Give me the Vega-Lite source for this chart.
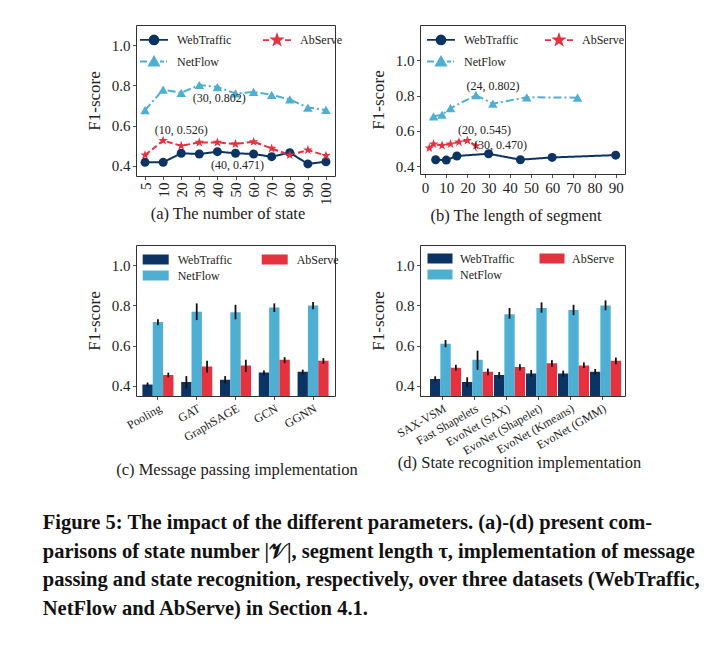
{
 "$schema": "https://vega.github.io/schema/vega-lite/v6.json",
 "background": "white",
 "padding": {"left": 42, "top": 24, "right": 5, "bottom": 5},
 "bounds": "flush",
 "align": "each",
 "columns": 2,
 "spacing": {"row": 69, "column": 85},
 "title": {
  "text": [
   "Figure 5: The impact of the different parameters. (a)-(d) present com-",
   "parisons of state number |𝒱|, segment length τ, implementation of message",
   "passing and state recognition, respectively, over three datasets (WebTraffic,",
   "NetFlow and AbServe) in Section 4.1."
  ],
  "orient": "bottom", "anchor": "start", "frame": "bounds",
  "font": "Liberation Serif", "fontSize": 20.5, "fontWeight": "bold", "lineHeight": 28.5,
  "color": "#111", "offset": 35, "dx": -42
 },
 "datasets": {
  "a": [
   {"n": 5, "series": "WebTraffic", "f1": 0.418}, {"n": 10, "series": "WebTraffic", "f1": 0.418},
   {"n": 20, "series": "WebTraffic", "f1": 0.463}, {"n": 30, "series": "WebTraffic", "f1": 0.459},
   {"n": 40, "series": "WebTraffic", "f1": 0.471}, {"n": 50, "series": "WebTraffic", "f1": 0.463},
   {"n": 60, "series": "WebTraffic", "f1": 0.459}, {"n": 70, "series": "WebTraffic", "f1": 0.446},
   {"n": 80, "series": "WebTraffic", "f1": 0.466}, {"n": 90, "series": "WebTraffic", "f1": 0.41},
   {"n": 100, "series": "WebTraffic", "f1": 0.421},
   {"n": 5, "series": "AbServe", "f1": 0.454}, {"n": 10, "series": "AbServe", "f1": 0.526},
   {"n": 20, "series": "AbServe", "f1": 0.5}, {"n": 30, "series": "AbServe", "f1": 0.517},
   {"n": 40, "series": "AbServe", "f1": 0.517}, {"n": 50, "series": "AbServe", "f1": 0.509},
   {"n": 60, "series": "AbServe", "f1": 0.52}, {"n": 70, "series": "AbServe", "f1": 0.487},
   {"n": 80, "series": "AbServe", "f1": 0.454}, {"n": 90, "series": "AbServe", "f1": 0.479},
   {"n": 100, "series": "AbServe", "f1": 0.451},
   {"n": 5, "series": "NetFlow", "f1": 0.677}, {"n": 10, "series": "NetFlow", "f1": 0.779},
   {"n": 20, "series": "NetFlow", "f1": 0.763}, {"n": 30, "series": "NetFlow", "f1": 0.802},
   {"n": 40, "series": "NetFlow", "f1": 0.792}, {"n": 50, "series": "NetFlow", "f1": 0.76},
   {"n": 60, "series": "NetFlow", "f1": 0.768}, {"n": 70, "series": "NetFlow", "f1": 0.753},
   {"n": 80, "series": "NetFlow", "f1": 0.73}, {"n": 90, "series": "NetFlow", "f1": 0.69},
   {"n": 100, "series": "NetFlow", "f1": 0.678}
  ],
  "b": [
   {"len": 5, "series": "WebTraffic", "f1": 0.436}, {"len": 10, "series": "WebTraffic", "f1": 0.434},
   {"len": 15, "series": "WebTraffic", "f1": 0.457}, {"len": 30, "series": "WebTraffic", "f1": 0.47},
   {"len": 45, "series": "WebTraffic", "f1": 0.436}, {"len": 60, "series": "WebTraffic", "f1": 0.449},
   {"len": 90, "series": "WebTraffic", "f1": 0.462},
   {"len": 2, "series": "AbServe", "f1": 0.502}, {"len": 4, "series": "AbServe", "f1": 0.525},
   {"len": 8, "series": "AbServe", "f1": 0.517}, {"len": 12, "series": "AbServe", "f1": 0.525},
   {"len": 16, "series": "AbServe", "f1": 0.536}, {"len": 20, "series": "AbServe", "f1": 0.545},
   {"len": 24, "series": "AbServe", "f1": 0.515},
   {"len": 4, "series": "NetFlow", "f1": 0.682}, {"len": 8, "series": "NetFlow", "f1": 0.691},
   {"len": 12, "series": "NetFlow", "f1": 0.728}, {"len": 24, "series": "NetFlow", "f1": 0.802},
   {"len": 32, "series": "NetFlow", "f1": 0.754}, {"len": 48, "series": "NetFlow", "f1": 0.79},
   {"len": 72, "series": "NetFlow", "f1": 0.788}
  ],
  "c": [
   {"method": "Pooling", "series": "WebTraffic", "f1": 0.407, "lo": 0.397, "hi": 0.417},
   {"method": "Pooling", "series": "NetFlow", "f1": 0.718, "lo": 0.702, "hi": 0.731},
   {"method": "Pooling", "series": "AbServe", "f1": 0.454, "lo": 0.443, "hi": 0.466},
   {"method": "GAT", "series": "WebTraffic", "f1": 0.42, "lo": 0.387, "hi": 0.449},
   {"method": "GAT", "series": "NetFlow", "f1": 0.769, "lo": 0.727, "hi": 0.81},
   {"method": "GAT", "series": "AbServe", "f1": 0.497, "lo": 0.467, "hi": 0.525},
   {"method": "GraphSAGE", "series": "WebTraffic", "f1": 0.431, "lo": 0.412, "hi": 0.449},
   {"method": "GraphSAGE", "series": "NetFlow", "f1": 0.766, "lo": 0.731, "hi": 0.803},
   {"method": "GraphSAGE", "series": "AbServe", "f1": 0.502, "lo": 0.469, "hi": 0.53},
   {"method": "GCN", "series": "WebTraffic", "f1": 0.467, "lo": 0.453, "hi": 0.477},
   {"method": "GCN", "series": "NetFlow", "f1": 0.789, "lo": 0.767, "hi": 0.81},
   {"method": "GCN", "series": "AbServe", "f1": 0.53, "lo": 0.513, "hi": 0.543},
   {"method": "GGNN", "series": "WebTraffic", "f1": 0.471, "lo": 0.456, "hi": 0.481},
   {"method": "GGNN", "series": "NetFlow", "f1": 0.8, "lo": 0.781, "hi": 0.817},
   {"method": "GGNN", "series": "AbServe", "f1": 0.525, "lo": 0.51, "hi": 0.538}
  ],
  "d": [
   {"method": "SAX-VSM", "series": "WebTraffic", "f1": 0.435, "lo": 0.423, "hi": 0.448},
   {"method": "SAX-VSM", "series": "NetFlow", "f1": 0.609, "lo": 0.592, "hi": 0.628},
   {"method": "SAX-VSM", "series": "AbServe", "f1": 0.49, "lo": 0.476, "hi": 0.505},
   {"method": "Fast Shapelets", "series": "WebTraffic", "f1": 0.42, "lo": 0.394, "hi": 0.443},
   {"method": "Fast Shapelets", "series": "NetFlow", "f1": 0.53, "lo": 0.48, "hi": 0.575},
   {"method": "Fast Shapelets", "series": "AbServe", "f1": 0.471, "lo": 0.453, "hi": 0.486},
   {"method": "EvoNet (SAX)", "series": "WebTraffic", "f1": 0.454, "lo": 0.436, "hi": 0.469},
   {"method": "EvoNet (SAX)", "series": "NetFlow", "f1": 0.756, "lo": 0.734, "hi": 0.787},
   {"method": "EvoNet (SAX)", "series": "AbServe", "f1": 0.494, "lo": 0.477, "hi": 0.508},
   {"method": "EvoNet (Shapelet)", "series": "WebTraffic", "f1": 0.462, "lo": 0.446, "hi": 0.479},
   {"method": "EvoNet (Shapelet)", "series": "NetFlow", "f1": 0.787, "lo": 0.764, "hi": 0.815},
   {"method": "EvoNet (Shapelet)", "series": "AbServe", "f1": 0.513, "lo": 0.495, "hi": 0.528},
   {"method": "EvoNet (Kmeans)", "series": "WebTraffic", "f1": 0.462, "lo": 0.446, "hi": 0.476},
   {"method": "EvoNet (Kmeans)", "series": "NetFlow", "f1": 0.777, "lo": 0.751, "hi": 0.803},
   {"method": "EvoNet (Kmeans)", "series": "AbServe", "f1": 0.502, "lo": 0.489, "hi": 0.517},
   {"method": "EvoNet (GMM)", "series": "WebTraffic", "f1": 0.471, "lo": 0.456, "hi": 0.484},
   {"method": "EvoNet (GMM)", "series": "NetFlow", "f1": 0.8, "lo": 0.776, "hi": 0.825},
   {"method": "EvoNet (GMM)", "series": "AbServe", "f1": 0.525, "lo": 0.508, "hi": 0.541}
  ]
 },
 "concat": [
  {
   "width": 199, "height": 151,
   "data": {"name": "a"},
   "encoding": {
    "x": {"field": "n", "type": "ordinal", "scale": {"type": "point", "padding": 0.5},
          "axis": {"labelAngle": -90, "title": "(a) The number of state", "titleX": 91.5, "titleY": 37.7, "titleBaseline": "middle"}},
    "y": {"field": "f1", "type": "quantitative", "scale": {"domain": [0.35, 1.1], "nice": false, "zero": false},
          "axis": {"values": [0.4, 0.6, 0.8, 1.0], "format": ".1f", "title": "F1-score"}}
   },
   "layer": [
    {"mark": {"type": "line", "strokeWidth": 2},
     "encoding": {
      "color": {"field": "series", "type": "nominal",
                "scale": {"domain": ["WebTraffic", "NetFlow", "AbServe"], "range": ["#0b3464", "#4fafd3", "#e5323f"]},
                "legend": {"orient": "none", "legendX": 12, "legendY": 8.5, "columns": 2, "title": null, "padding": 0,
                           "symbolSize": 100, "labelOffset": 17, "columnPadding": 27, "rowPadding": 4,
                           "labelFont": "Liberation Serif", "labelFontSize": 12, "labelColor": "#222",
                           "encode": {"symbols": {"update": {
                             "shape": {"signal": "datum.value === 'WebTraffic' ? 'M-2.8,0H2.8M-0.9,0A0.9,0.9,0,1,1,0.9,0A0.9,0.9,0,1,1,-0.9,0Z' : datum.value === 'AbServe' ? 'M-2.8,0H-1.6M1.6,0H2.8M0,-1.05L0.247,-0.34L0.999,-0.324L0.399,0.13L0.617,0.849L0,0.42L-0.617,0.849L-0.399,0.13L-0.999,-0.324L-0.247,-0.34Z' : 'M-2.8,0H-1.4M1.2,0H2.0M2.4,0H2.6M-1,0.8L0,-0.95L1,0.8Z'"},
                             "fill": {"signal": "datum.value === 'WebTraffic' ? '#0b3464' : datum.value === 'AbServe' ? '#e5323f' : '#4fafd3'"},
                             "stroke": {"signal": "datum.value === 'WebTraffic' ? '#0b3464' : datum.value === 'AbServe' ? '#e5323f' : '#4fafd3'"},
                             "strokeWidth": {"value": 1.8},
                             "opacity": {"value": 1}}}}}},
      "strokeDash": {"field": "series", "type": "nominal",
                     "scale": {"domain": ["WebTraffic", "NetFlow", "AbServe"], "range": [[1, 0], [8, 3, 2, 3], [6, 3]]},
                     "legend": null}
     }},
    {"mark": {"type": "point", "filled": true, "opacity": 1},
     "encoding": {
      "color": {"field": "series", "type": "nominal"},
      "shape": {"field": "series", "type": "nominal",
                "scale": {"domain": ["WebTraffic", "NetFlow", "AbServe"], "range": ["circle", "triangle-up", "M0,-1L0.235,-0.324L0.951,-0.309L0.38,0.124L0.588,0.809L0,0.4L-0.588,0.809L-0.38,0.124L-0.951,-0.309L-0.235,-0.324Z"]},
                "legend": null},
      "size": {"field": "series", "type": "nominal",
               "scale": {"domain": ["WebTraffic", "NetFlow", "AbServe"], "range": [81, 100, 130]},
               "legend": null}
     }},
    {"transform": [{"filter": "datum.series === 'AbServe' && datum.n === 10"}],
     "mark": {"type": "text", "dx": 18, "dy": -10.6, "font": "Liberation Serif", "fontSize": 12, "color": "#222"},
     "encoding": {"text": {"value": "(10, 0.526)"}}},
    {"transform": [{"filter": "datum.series === 'NetFlow' && datum.n === 30"}],
     "mark": {"type": "text", "dx": 20, "dy": 13, "font": "Liberation Serif", "fontSize": 12, "color": "#222"},
     "encoding": {"text": {"value": "(30, 0.802)"}}},
    {"transform": [{"filter": "datum.series === 'WebTraffic' && datum.n === 40"}],
     "mark": {"type": "text", "dx": 20, "dy": 13, "font": "Liberation Serif", "fontSize": 12, "color": "#222"},
     "encoding": {"text": {"value": "(40, 0.471)"}}}
   ]
  },
  {
   "width": 205, "height": 149,
   "data": {"name": "b"},
   "encoding": {
    "x": {"field": "len", "type": "quantitative", "scale": {"domain": [-2.4, 94.4], "nice": false, "zero": false},
          "axis": {"values": [0, 10, 20, 30, 40, 50, 60, 70, 80, 90], "labelAngle": 0, "title": "(b) The length of segment", "titleX": 95.5, "titleY": 41, "titleBaseline": "middle"}},
    "y": {"field": "f1", "type": "quantitative", "scale": {"domain": [0.355, 1.2], "nice": false, "zero": false},
          "axis": {"values": [0.4, 0.6, 0.8, 1.0], "format": ".1f", "title": "F1-score"}}
   },
   "layer": [
    {"mark": {"type": "line", "strokeWidth": 2},
     "encoding": {
      "color": {"field": "series", "type": "nominal",
                "scale": {"domain": ["WebTraffic", "NetFlow", "AbServe"], "range": ["#0b3464", "#4fafd3", "#e5323f"]},
                "legend": {"orient": "none", "legendX": 15, "legendY": 8.5, "columns": 2, "title": null, "padding": 0,
                           "symbolSize": 100, "labelOffset": 17, "columnPadding": 22, "rowPadding": 4,
                           "labelFont": "Liberation Serif", "labelFontSize": 12, "labelColor": "#222",
                           "encode": {"symbols": {"update": {
                             "shape": {"signal": "datum.value === 'WebTraffic' ? 'M-2.8,0H2.8M-0.9,0A0.9,0.9,0,1,1,0.9,0A0.9,0.9,0,1,1,-0.9,0Z' : datum.value === 'AbServe' ? 'M-2.8,0H-1.6M1.6,0H2.8M0,-1.05L0.247,-0.34L0.999,-0.324L0.399,0.13L0.617,0.849L0,0.42L-0.617,0.849L-0.399,0.13L-0.999,-0.324L-0.247,-0.34Z' : 'M-2.8,0H-1.4M1.2,0H2.0M2.4,0H2.6M-1,0.8L0,-0.95L1,0.8Z'"},
                             "fill": {"signal": "datum.value === 'WebTraffic' ? '#0b3464' : datum.value === 'AbServe' ? '#e5323f' : '#4fafd3'"},
                             "stroke": {"signal": "datum.value === 'WebTraffic' ? '#0b3464' : datum.value === 'AbServe' ? '#e5323f' : '#4fafd3'"},
                             "strokeWidth": {"value": 1.8},
                             "opacity": {"value": 1}}}}}},
      "strokeDash": {"field": "series", "type": "nominal",
                     "scale": {"domain": ["WebTraffic", "NetFlow", "AbServe"], "range": [[1, 0], [8, 3, 2, 3], [6, 3]]},
                     "legend": null}
     }},
    {"mark": {"type": "point", "filled": true, "opacity": 1},
     "encoding": {
      "color": {"field": "series", "type": "nominal"},
      "shape": {"field": "series", "type": "nominal",
                "scale": {"domain": ["WebTraffic", "NetFlow", "AbServe"], "range": ["circle", "triangle-up", "M0,-1L0.235,-0.324L0.951,-0.309L0.38,0.124L0.588,0.809L0,0.4L-0.588,0.809L-0.38,0.124L-0.951,-0.309L-0.235,-0.324Z"]},
                "legend": null},
      "size": {"field": "series", "type": "nominal",
               "scale": {"domain": ["WebTraffic", "NetFlow", "AbServe"], "range": [81, 100, 130]},
               "legend": null}
     }},
    {"transform": [{"filter": "datum.series === 'NetFlow' && datum.len === 24"}],
     "mark": {"type": "text", "dx": 17, "dy": -9, "font": "Liberation Serif", "fontSize": 12, "color": "#222"},
     "encoding": {"text": {"value": "(24, 0.802)"}}},
    {"transform": [{"filter": "datum.series === 'AbServe' && datum.len === 20"}],
     "mark": {"type": "text", "dx": 17, "dy": -10.5, "font": "Liberation Serif", "fontSize": 12, "color": "#222"},
     "encoding": {"text": {"value": "(20, 0.545)"}}},
    {"transform": [{"filter": "datum.series === 'WebTraffic' && datum.len === 30"}],
     "mark": {"type": "text", "dx": 12, "dy": -9, "font": "Liberation Serif", "fontSize": 12, "color": "#222"},
     "encoding": {"text": {"value": "(30, 0.470)"}}}
   ]
  },
  {
   "width": 199, "height": 151,
   "data": {"name": "c"},
   "encoding": {
    "x": {"field": "method", "type": "nominal", "sort": ["Pooling", "GAT", "GraphSAGE", "GCN", "GGNN"],
          "scale": {"paddingInner": 0.2, "paddingOuter": 0.165},
          "axis": {"labelAngle": -30, "labelAlign": "right", "labelBaseline": "top", "labelFontSize": 12, "labelPadding": 3,
                   "title": "(c) Message passing implementation", "titleX": 100.5, "titleY": 73, "titleBaseline": "middle"}},
    "xOffset": {"field": "series", "type": "nominal", "scale": {"domain": ["WebTraffic", "NetFlow", "AbServe"], "paddingInner": 0, "paddingOuter": 0}},
    "y": {"field": "f1", "type": "quantitative", "scale": {"domain": [0.35, 1.1], "nice": false, "zero": false},
          "axis": {"values": [0.4, 0.6, 0.8, 1.0], "format": ".1f", "title": "F1-score"}}
   },
   "layer": [
    {"mark": {"type": "bar", "clip": true},
     "encoding": {
      "color": {"field": "series", "type": "nominal",
                "scale": {"domain": ["WebTraffic", "NetFlow", "AbServe"], "range": ["#0b3464", "#4fafd3", "#e5323f"]},
                "legend": {"orient": "none", "legendX": 13.7, "legendY": 8.5, "columns": 2, "title": null, "padding": 0,
                           "symbolType": "M-2.6,-1H2.6V1H-2.6Z", "symbolSize": 100, "symbolStrokeWidth": 0, "symbolOpacity": 1,
                           "labelOffset": 16, "columnPadding": 29, "rowPadding": 4,
                           "labelFont": "Liberation Serif", "labelFontSize": 12, "labelColor": "#222"}}
     }},
    {"mark": {"type": "rule", "color": "#111", "strokeWidth": 1.8},
     "encoding": {"y": {"field": "lo", "type": "quantitative"}, "y2": {"field": "hi"}}}
   ]
  },
  {
   "width": 205, "height": 151,
   "data": {"name": "d"},
   "encoding": {
    "x": {"field": "method", "type": "nominal", "sort": ["SAX-VSM", "Fast Shapelets", "EvoNet (SAX)", "EvoNet (Shapelet)", "EvoNet (Kmeans)", "EvoNet (GMM)"],
          "scale": {"paddingInner": 0.22, "paddingOuter": 0.313},
          "axis": {"labelAngle": -30, "labelAlign": "right", "labelBaseline": "top", "labelFontSize": 12, "labelPadding": 3,
                   "title": "(d) State recognition implementation", "titleX": 99, "titleY": 66.7, "titleBaseline": "middle"}},
    "xOffset": {"field": "series", "type": "nominal", "scale": {"domain": ["WebTraffic", "NetFlow", "AbServe"], "paddingInner": 0, "paddingOuter": 0}},
    "y": {"field": "f1", "type": "quantitative", "scale": {"domain": [0.35, 1.1], "nice": false, "zero": false},
          "axis": {"values": [0.4, 0.6, 0.8, 1.0], "format": ".1f", "title": "F1-score"}}
   },
   "layer": [
    {"mark": {"type": "bar", "clip": true},
     "encoding": {
      "color": {"field": "series", "type": "nominal",
                "scale": {"domain": ["WebTraffic", "NetFlow", "AbServe"], "range": ["#0b3464", "#4fafd3", "#e5323f"]},
                "legend": {"orient": "none", "legendX": 14, "legendY": 7.5, "columns": 2, "title": null, "padding": 0,
                           "symbolType": "M-2.5,-1H2.5V1H-2.5Z", "symbolSize": 100, "symbolStrokeWidth": 0, "symbolOpacity": 1,
                           "labelOffset": 14, "columnPadding": 24, "rowPadding": 4,
                           "labelFont": "Liberation Serif", "labelFontSize": 12, "labelColor": "#222"}}
     }},
    {"mark": {"type": "rule", "color": "#111", "strokeWidth": 1.8},
     "encoding": {"y": {"field": "lo", "type": "quantitative"}, "y2": {"field": "hi"}}}
   ]
  }
 ],
 "resolve": {"scale": {"color": "independent"}, "legend": {"color": "independent"}},
 "config": {
  "view": {"stroke": "#333", "strokeWidth": 1},
  "font": "Liberation Serif",
  "axis": {"domain": false, "grid": false, "ticks": true, "tickColor": "#222", "tickSize": 3.5, "tickWidth": 0.8,
           "labelFont": "Liberation Serif", "labelFontSize": 15, "labelColor": "#222", "labelPadding": 2.5,
           "titleFont": "Liberation Serif", "titleFontWeight": "normal", "titleColor": "#222"},
  "axisY": {"titleFontSize": 17, "titlePadding": 8},
  "axisX": {"titleFontSize": 16.5},
  "legend": {"padding": 0}
 }
}
